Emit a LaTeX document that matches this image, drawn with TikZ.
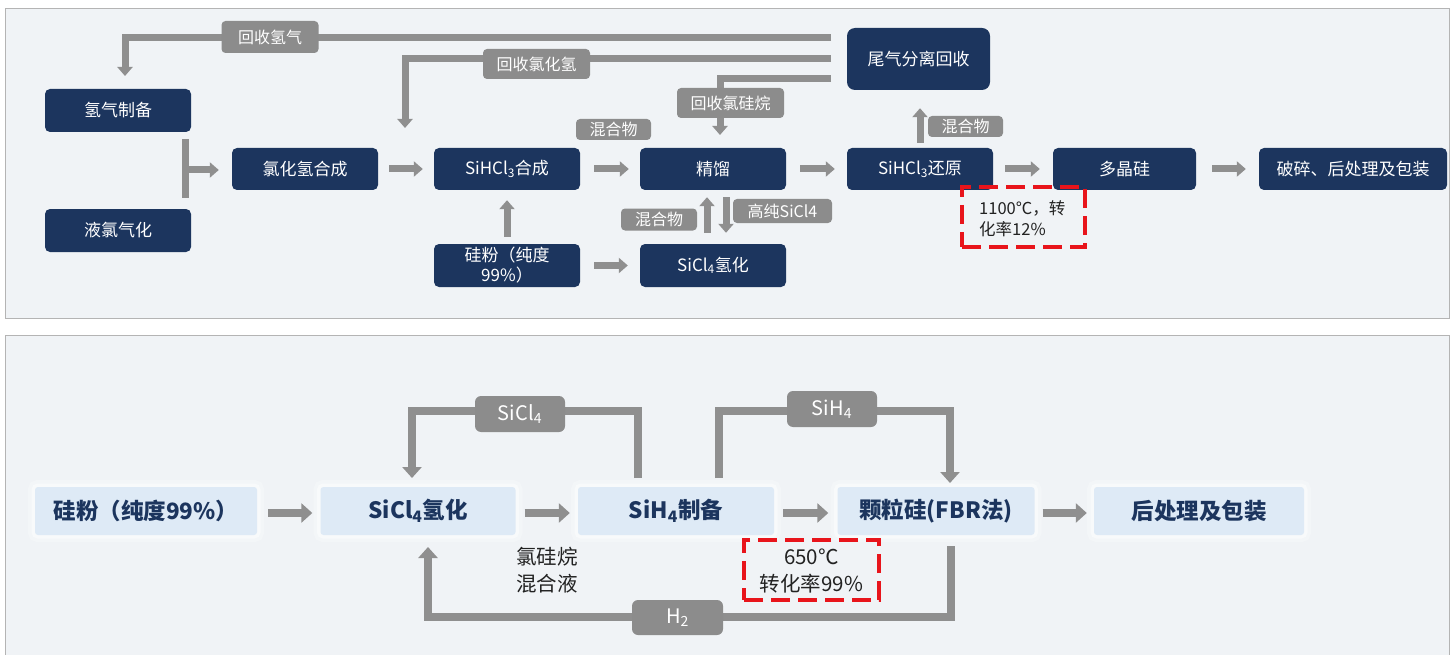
\documentclass[tikz,border=0pt]{standalone}
\usepackage{fontspec}
\setmainfont{Noto Sans CJK SC}
\usetikzlibrary{arrows.meta}
\definecolor{navy}{HTML}{1C355E}
\definecolor{agray}{HTML}{8F8F8F}
\definecolor{lgray}{HTML}{8C8C8C}
\definecolor{panel}{HTML}{F0F3F6}
\definecolor{pborder}{HTML}{B4B4B4}
\definecolor{lblue}{HTML}{DEEAF6}
\definecolor{rdash}{HTML}{E8141B}
\definecolor{dtext}{HTML}{222222}
\tikzset{
  dbox/.style={fill=navy, rounded corners=5pt, text=white, inner sep=0pt,
    font=\fontsize{17pt}{20pt}\selectfont, align=center},
  glab/.style={fill=lgray, rounded corners=4pt, text=white, inner sep=0pt,
    font=\fontsize{16pt}{18pt}\selectfont},
  glabb/.style={fill=lgray, rounded corners=6pt, text=white, inner sep=0pt,
    font=\fontsize{20pt}{22pt}\selectfont},
  lbox/.style={fill=lblue, rounded corners=3pt, text=navy, inner sep=0pt,
    font=\fontsize{22.5pt}{25pt}\selectfont\bfseries, minimum height=48pt,
    preaction={draw=white, line width=14pt, draw opacity=0.25},
    preaction={draw=white, line width=7pt, draw opacity=0.45}},
  gline/.style={draw=agray, line width=7pt},
  arr/.style={draw=agray, line width=7pt, -{Triangle[width=15pt,length=9pt]}},
  barr/.style={draw=agray, line width=8.5pt, -{Triangle[width=19pt,length=11pt]}},
  rbox/.style={draw=rdash, line width=3.5pt, dash pattern=on 19pt off 8pt, inner sep=0pt},
}
\begin{document}
\begin{tikzpicture}[x=1pt,y=-1pt]
\fill[white] (0,0) rectangle (1450,655);
\useasboundingbox (0,0) rectangle (1450,655);
% panels
\filldraw[fill=panel, draw=pborder, line width=0.8pt] (5,8) rectangle (1449,318);
\filldraw[fill=panel, draw=pborder, line width=0.8pt] (5,335) rectangle (1449,660);

% ---------------- top panel nodes
\node[dbox, minimum width=146pt, minimum height=43pt] (h2) at (118,110.5) {氢气制备};
\node[dbox, minimum width=146pt, minimum height=43pt] (cl2) at (118,230.5) {液氯气化};
\node[dbox, minimum width=146pt, minimum height=42pt] (hcl) at (305,169) {氯化氢合成};
\node[dbox, minimum width=146pt, minimum height=42pt] (tcs) at (507,169) {SiHCl\textsubscript{3}合成};
\node[dbox, minimum width=146pt, minimum height=42pt] (dist) at (713,169) {精馏};
\node[dbox, minimum width=146pt, minimum height=43pt] (sip) at (507,265.5) {硅粉（纯度\\99\%）};
\node[dbox, minimum width=146pt, minimum height=43pt] (hyd) at (713,265.5) {SiCl\textsubscript{4}氢化};
\node[dbox, minimum width=143pt, minimum height=62pt, rounded corners=8pt] (tail) at (918.5,59) {尾气分离回收};
\node[dbox, minimum width=146pt, minimum height=42pt] (red) at (920,169) {SiHCl\textsubscript{3}还原};
\node[dbox, minimum width=143pt, minimum height=42pt] (poly) at (1124.5,169) {多晶硅};
\node[dbox, minimum width=188pt, minimum height=42pt] (pack) at (1353,169) {破碎、后处理及包装};

% recycle lines
\coordinate (rA) at (831,38);
\coordinate (rB) at (831,59);
\coordinate (rC) at (831,79);
\draw[arr] (rA) -- (125,38) -- (125,76);
\draw[arr] (rB) -- (405,59) -- (405,128);
\draw[arr] (rC) -- (720,79) -- (720,135);
\node[glab, minimum width=97pt, minimum height=32pt] (lH) at (270,37) {回收氢气};
\node[glab, minimum width=107pt, minimum height=30pt] (lHCl) at (536.5,64) {回收氯化氢};
\node[glab, minimum width=107pt, minimum height=30pt] (lCS) at (730.5,103) {回收氯硅烷};

% junction
\coordinate (j1) at (185,139);
\coordinate (j2) at (185,198);
\coordinate (j3) at (185,170);
\draw[gline] (j1) -- (j2);
\draw[arr] (j3) -- ([xshift=-13pt]hcl.west |- j3);

% main arrows
\draw[arr] ([xshift=11pt]hcl.east) -- ([xshift=-11pt]tcs.west);
\draw[arr] ([xshift=14pt]tcs.east) -- ([xshift=-11pt]dist.west);
\draw[arr] ([xshift=14pt]dist.east) -- ([xshift=-12pt]red.west);
\draw[arr] ([xshift=12pt]red.east) -- ([xshift=-13pt]poly.west);
\draw[arr] ([xshift=16pt]poly.east) -- ([xshift=-13pt]pack.west);
\draw[arr] ([yshift=7pt]sip.north) -- ([yshift=-10pt]tcs.south);
\draw[arr] ([xshift=14pt]sip.east) -- ([xshift=-12pt]hyd.west);
\draw[arr] ([xshift=-6pt,yshift=11pt]hyd.north) -- ([xshift=-6pt,yshift=-7pt]dist.south);
\draw[arr] ([xshift=13pt,yshift=-7pt]dist.south) -- ([xshift=13pt,yshift=11pt]hyd.north);
\draw[arr] ([yshift=5pt]red.north) -- ([xshift=1.5pt,yshift=-18pt]tail.south);

\node[glab, minimum width=75pt, minimum height=21pt] (m1) at (613.5,129.5) {混合物};
\node[glab, minimum width=76pt, minimum height=22pt] (m2) at (659,219.5) {混合物};
\node[glab, minimum width=99pt, minimum height=24pt] (hp) at (782.5,211) {高纯SiCl4};
\node[glab, minimum width=75pt, minimum height=21pt] (m3) at (965.5,126.5) {混合物};

% red dashed box top
\node[rbox, minimum width=123pt, minimum height=60pt] (rb1) at (1023.5,217) {};
\node[anchor=west, text=dtext, align=left, inner sep=0pt,
  font=\fontsize{16.5pt}{21pt}\selectfont] (rt1) at (979,219) {1100℃，转\\化率12\%};

% ---------------- bottom panel
\node[lbox, minimum width=222pt] (b1) at (146,511) {硅粉（纯度99\%）};
\node[lbox, minimum width=195pt] (b2) at (418,511) {SiCl\textsubscript{4}氢化};
\node[lbox, minimum width=196pt] (b3) at (676,511) {SiH\textsubscript{4}制备};
\node[lbox, minimum width=197pt] (b4) at (936,511) {颗粒硅(FBR法)};
\node[lbox, minimum width=210pt] (b5) at (1199,511) {后处理及包装};

\draw[barr] ([xshift=11pt,yshift=-2pt]b1.east) -- ([xshift=-8pt,yshift=-2pt]b2.west);
\draw[barr] ([xshift=9pt,yshift=-2pt]b2.east) -- ([xshift=-8pt,yshift=-2pt]b3.west);
\draw[barr] ([xshift=9pt,yshift=-2pt]b3.east) -- ([xshift=-9pt,yshift=-2pt]b4.west);
\draw[barr] ([xshift=8pt,yshift=-2pt]b4.east) -- ([xshift=-7pt,yshift=-2pt]b5.west);

% loops
\coordinate (s1) at (638,478);
\coordinate (s2) at (719,478);
\coordinate (s3) at (951,546);
\draw[barr] (s1) -- (638,411) -- (412,411) -- (412,478);
\draw[barr] (s2) -- (719,411) -- (950,411) -- (950,483);
\draw[barr] (s3) -- (951,617) -- (428,617) -- (428,547);

\node[glabb, minimum width=90pt, minimum height=36pt] (lS1) at (520,414) {SiCl\textsubscript{4}};
\node[glabb, minimum width=90pt, minimum height=36pt] (lS2) at (832,409) {SiH\textsubscript{4}};
\node[glabb, minimum width=91pt, minimum height=35pt] (lS3) at (677.5,617.5) {H\textsubscript{2}};

\node[text=dtext, align=center, inner sep=0pt,
  font=\fontsize{20.5pt}{27pt}\selectfont] (mix) at (547,570) {氯硅烷\\混合液};

\node[rbox, minimum width=135pt, minimum height=60pt] (rb2) at (811.5,570) {};
\node[text=dtext, align=center, inner sep=0pt,
  font=\fontsize{20.5pt}{27pt}\selectfont] (rt2) at (811.5,571) {650℃\\转化率99\%};
\end{tikzpicture}
\end{document}
